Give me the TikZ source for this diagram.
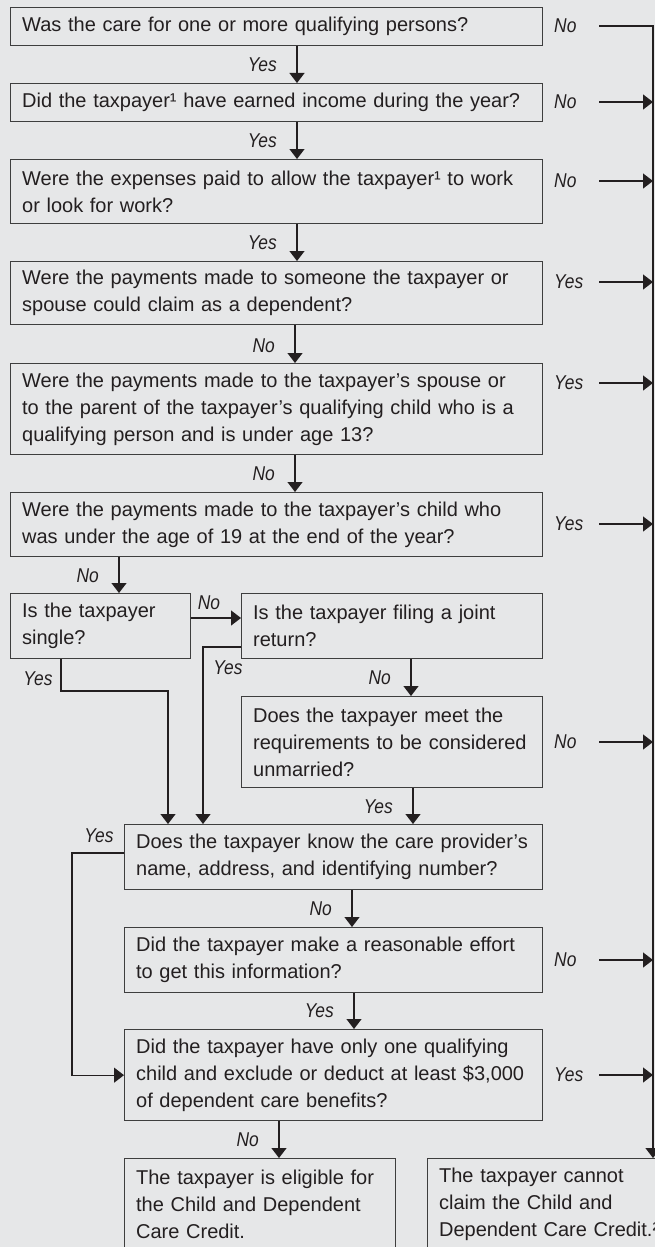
\documentclass[tikz,border=0pt]{standalone}
\usepackage{fontspec}
\setmainfont{Liberation Sans}
\newfontfamily\lblfont{Liberation Sans}[FakeStretch=0.87]
\usetikzlibrary{arrows.meta}
\definecolor{bgc}{RGB}{230,231,232}
\definecolor{ink}{RGB}{35,31,32}
\definecolor{edgec}{RGB}{62,62,62}
\newcommand\LL[1]{\makebox[0pt][l]{#1}}
\begin{document}
\begin{tikzpicture}[x=1pt,y=-1pt,
  qbox/.style={draw=edgec, line width=1.3pt, anchor=north west, inner xsep=11.5pt, inner ysep=0pt,
    align=left, font=\fontsize{20}{26.7}\selectfont, text=ink},
  lbl/.style={font=\lblfont\itshape\fontsize{20}{21}\selectfont, text=ink, inner sep=0pt},
  ln/.style={draw=ink, line width=1.2pt},
  arr/.style={draw=ink, line width=1.2pt, -{Triangle[width=15pt,length=10pt]}}]
\useasboundingbox (0,0) rectangle (655,1247);
\fill[bgc] (0,0) rectangle (655,1247);
\clip (0,0) rectangle (655,1247);

% boxes
\node[qbox, minimum width=532pt, minimum height=38pt, text width=509pt] (q1) at (10,7)
  {\LL{Was the care for one or more qualifying persons?}};
\node[qbox, minimum width=532pt, minimum height=38pt, text width=509pt] (q2) at (10,83)
  {\LL{Did the taxpayer¹ have earned income during the year?}};
\node[qbox, minimum width=532pt, minimum height=64pt, text width=509pt] (q3) at (10,159)
  {\LL{Were the expenses paid to allow the taxpayer¹ to work}\\\LL{or look for work?}};
\node[qbox, minimum width=532pt, minimum height=63pt, text width=509pt] (q4) at (10,261)
  {\LL{Were the payments made to someone the taxpayer or}\\\LL{spouse could claim as a dependent?}};
\node[qbox, minimum width=532pt, minimum height=91pt, text width=509pt] (q5) at (10,363)
  {\LL{Were the payments made to the taxpayer’s spouse or}\\\LL{to the parent of the taxpayer’s qualifying child who is a}\\\LL{qualifying person and is under age 13?}};
\node[qbox, minimum width=532pt, minimum height=64pt, text width=509pt] (q6) at (10,492)
  {\LL{Were the payments made to the taxpayer’s child who}\\\LL{was under the age of 19 at the end of the year?}};
\node[qbox, minimum width=180pt, minimum height=65pt, text width=157pt] (single) at (10,593)
  {\LL{Is the taxpayer}\\\LL{single?}};
\node[qbox, minimum width=301pt, minimum height=65pt, text width=278pt] (joint) at (241,593)
  {\LL{Is the taxpayer filing a joint}\\\LL{return?}};
\node[qbox, minimum width=301pt, minimum height=91pt, text width=278pt] (unm) at (241,696)
  {\LL{Does the taxpayer meet the}\\\LL{requirements to be considered}\\\LL{unmarried?}};
\node[qbox, minimum width=418pt, minimum height=65pt, text width=395pt] (care) at (124,824)
  {\LL{Does the taxpayer know the care provider’s}\\\LL{name, address, and identifying number?}};
\node[qbox, minimum width=418pt, minimum height=65pt, text width=395pt] (effort) at (124,927)
  {\LL{Did the taxpayer make a reasonable effort}\\\LL{to get this information?}};
\node[qbox, minimum width=418pt, minimum height=91pt, text width=395pt] (last) at (124,1029)
  {\LL{Did the taxpayer have only one qualifying}\\\LL{child and exclude or deduct at least \$3,000}\\\LL{of dependent care benefits?}};
\node[qbox, minimum width=271pt, minimum height=91pt, text width=248pt] (elig) at (124,1158)
  {\LL{The taxpayer is eligible for}\\\LL{the Child and Dependent}\\\LL{Care Credit.}};
\node[qbox, minimum width=280pt, minimum height=91pt, text width=257pt] (cannot) at (427,1158)
  {\LL{The taxpayer cannot}\\\LL{claim the Child and}\\\LL{Dependent Care Credit.²}};

% helper coordinates
\coordinate (sx) at (599,0);
\coordinate (rx) at (653,0);
\coordinate (a297) at (297,0);
\coordinate (a295) at (295,0);
\coordinate (a119) at (119,0);
\coordinate (a411) at (411,0);
\coordinate (a413) at (413,0);
\coordinate (a352) at (352,0);
\coordinate (a354) at (354,0);
\coordinate (a279) at (279,0);
\coordinate (a203) at (203,0);
\coordinate (a168) at (168,0);
\coordinate (a61) at (61,0);
\coordinate (a72) at (72,0);
\coordinate (h618) at (0,618);
\coordinate (h647) at (0,647);
\coordinate (h691) at (0,691);
\coordinate (h853) at (0,853);

% right-hand labels
\node[lbl, anchor=west] (r1) at (554,26) {No};
\node[lbl, anchor=west] (r2) at (554,102) {No};
\node[lbl, anchor=west] (r3) at (554,181) {No};
\node[lbl, anchor=west] (r4) at (554,282) {Yes};
\node[lbl, anchor=west] (r5) at (554,383) {Yes};
\node[lbl, anchor=west] (r6) at (554,524) {Yes};
\node[lbl, anchor=west] (r7) at (554,742) {No};
\node[lbl, anchor=west] (r8) at (554,960) {No};
\node[lbl, anchor=west] (r9) at (554,1075) {Yes};

% right-hand connectors
\draw[arr] (r1 -| sx) -- (r1 -| rx) -- (cannot.north -| rx);
\foreach \r in {r2,r3,r4,r5,r6,r7,r8,r9}{
  \draw[arr] (\r -| sx) -- (\r -| rx);
}

% down-arrow labels
\node[lbl, anchor=east] (d1) at (277,65) {Yes};
\node[lbl, anchor=east] (d2) at (277,141) {Yes};
\node[lbl, anchor=east] (d3) at (277,243) {Yes};
\node[lbl, anchor=east] (d4) at (275,346) {No};
\node[lbl, anchor=east] (d5) at (275,474) {No};
\node[lbl, anchor=east] (d6) at (99,576) {No};
\node[lbl, anchor=east] (d7) at (391,678) {No};
\node[lbl, anchor=east] (d8) at (393,807) {Yes};
\node[lbl, anchor=east] (d9) at (332,909) {No};
\node[lbl, anchor=east] (d10) at (334,1011) {Yes};
\node[lbl, anchor=east] (d11) at (259,1140) {No};
\node[lbl] (n1) at (209,603) {No};
\node[lbl] (ys) at (38,679) {Yes};
\node[lbl] (yj) at (228,668) {Yes};
\node[lbl] (yc) at (99,836) {Yes};

% main connectors
\draw[arr] (q1.south -| a297) -- (q2.north -| a297);
\draw[arr] (q2.south -| a297) -- (q3.north -| a297);
\draw[arr] (q3.south -| a297) -- (q4.north -| a297);
\draw[arr] (q4.south -| a295) -- (q5.north -| a295);
\draw[arr] (q5.south -| a295) -- (q6.north -| a295);
\draw[arr] (q6.south -| a119) -- (single.north -| a119);
\draw[arr] (single.east |- h618) -- (joint.west |- h618);
\draw[arr] (joint.west |- h647) -- (a203 |- h647) -- (care.north -| a203);
\draw[arr] (single.south -| a61) -- (a61 |- h691) -- (a168 |- h691) -- (care.north -| a168);
\draw[arr] (joint.south -| a411) -- (unm.north -| a411);
\draw[arr] (unm.south -| a413) -- (care.north -| a413);
\draw[arr] (care.west |- h853) -- (a72 |- h853) -- (a72 |- last.west) -- (last.west);
\draw[arr] (care.south -| a352) -- (effort.north -| a352);
\draw[arr] (effort.south -| a354) -- (last.north -| a354);
\draw[arr] (last.south -| a279) -- (elig.north -| a279);
\end{tikzpicture}
\end{document}
